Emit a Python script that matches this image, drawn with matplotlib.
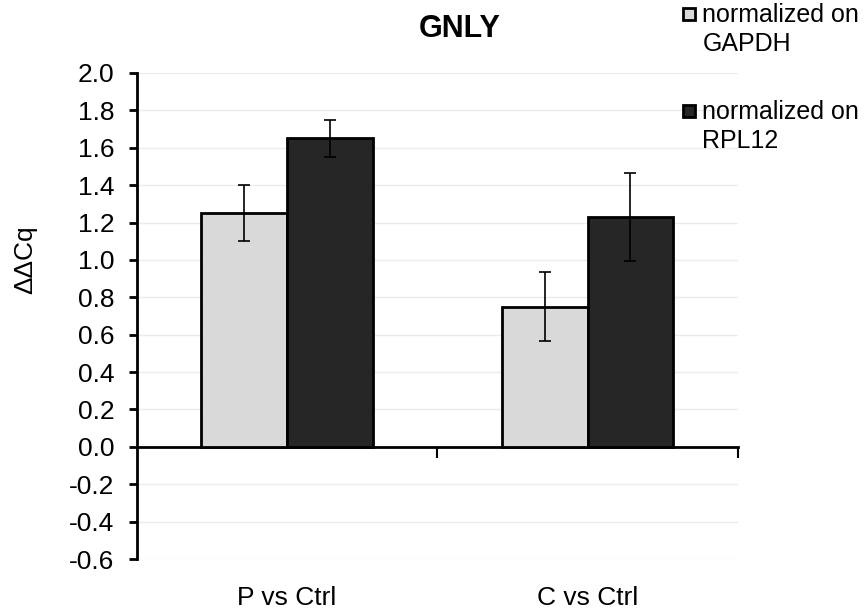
import numpy as np
import matplotlib

matplotlib.use("Agg")
import matplotlib.pyplot as plt
from matplotlib.patches import Rectangle
from matplotlib.transforms import blended_transform_factory

plt.rcParams["font.family"] = ["Liberation Sans", "DejaVu Sans"]

categories = ["P vs Ctrl", "C vs Ctrl"]
series_names = ["normalized on\nGAPDH", "normalized on\nRPL12"]
gapdh_vals = [1.25, 0.75]
gapdh_err = [0.15, 0.185]
rpl12_vals = [1.65, 1.23]
rpl12_err = [0.10, 0.235]
yticks = np.round(np.arange(-0.6, 2.01, 0.2), 1)

colors = ["#d9d9d9", "#262626"]

fig = plt.figure(figsize=(8.66, 6.13), dpi=100)
ax = fig.add_axes([0.158, 0.088, 0.694, 0.793])

x = np.arange(len(categories))
w = 0.285
for i, (vals, errs) in enumerate([(gapdh_vals, gapdh_err), (rpl12_vals, rpl12_err)]):
    ax.bar(x + (i - 0.5) * w, vals, w, color=colors[i], edgecolor="black",
           linewidth=2, zorder=3)
    ax.errorbar(x + (i - 0.5) * w, vals, yerr=errs, fmt="none", ecolor="black",
                elinewidth=1.2, capsize=4, capthick=1.2, zorder=4)

ax.set_xlim(-0.5, 1.5)
ax.set_ylim(-0.6, 2.0)
ax.set_yticks(yticks)
ax.set_yticklabels([f"{v:.1f}" for v in yticks], fontsize=19)
ax.yaxis.grid(True, color="#ebebeb", linewidth=1)
ax.set_axisbelow(True)

ax.spines["top"].set_visible(False)
ax.spines["right"].set_visible(False)
ax.spines["left"].set_linewidth(2)
ax.spines["bottom"].set_linewidth(2)
ax.spines["bottom"].set_position(("data", 0))
ax.tick_params(axis="y", direction="out", length=6, width=2, pad=10)
ax.tick_params(axis="x", direction="out", length=8, width=1.5)
ax.set_xticks([0.5, 1.5])
ax.set_xticklabels([])

trans = blended_transform_factory(ax.transData, ax.transAxes)
for xi, cat in zip(x, categories):
    ax.text(xi, -0.08, cat, transform=trans, ha="center", va="center", fontsize=19)

ax.set_ylabel("ΔΔCq", fontsize=19)
ax.yaxis.set_label_coords(-0.165, 0.615)
fig.text(0.531, 0.953, "GNLY", ha="center", va="center", fontsize=22, fontweight="bold")

# legend built by hand so the swatch sits beside the first line of text
for i, name in enumerate(series_names):
    top = 0.987 - i * 0.158
    fig.patches.append(Rectangle((0.789, top - 0.02), 0.014, 0.02, transform=fig.transFigure,
                                 facecolor=colors[i], edgecolor="black", linewidth=2))
    fig.text(0.811, top + 0.008, name, ha="left", va="top", fontsize=18, linespacing=1.25)

fig.savefig("out.png", dpi=100)
